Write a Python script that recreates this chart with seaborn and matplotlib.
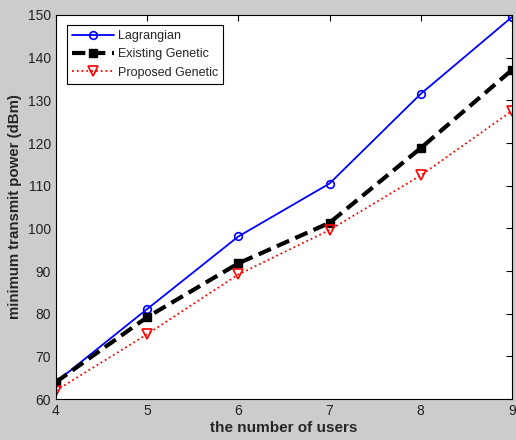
import matplotlib
matplotlib.use("Agg")
import matplotlib.pyplot as plt
import seaborn as sns
import pandas as pd

users = [4, 5, 6, 7, 8, 9]
lagrangian = [64.0, 81.1, 98.1, 110.5, 131.5, 149.5]
existing_genetic = [64.0, 79.2, 91.8, 101.3, 118.8, 137.1]
proposed_genetic = [62.0, 75.2, 89.2, 99.6, 112.4, 127.5]
series_names = ["Lagrangian", "Existing Genetic", "Proposed Genetic"]

sns.set_style("white")
plt.rcParams['font.family'] = ['Liberation Sans', 'DejaVu Sans']

fig = plt.figure(figsize=(5.16, 4.4), dpi=100, facecolor="#cccccc")
ax = fig.add_axes([0.1085, 0.093, 0.8835, 0.873])
ax.set_facecolor("white")

df = pd.DataFrame({"x": users * 3,
                   "y": lagrangian + existing_genetic + proposed_genetic,
                   "s": sum([[n] * len(users) for n in series_names], [])})

styles = {
    "Lagrangian": dict(color="#0000ff", ls="-", lw=1.3, marker="o", ms=5.5, mfc="none", mew=1.2),
    "Existing Genetic": dict(color="black", ls=(0, (3.2, 1.6)), lw=3.0, marker="s", ms=6, mfc="black", mew=1),
    "Proposed Genetic": dict(color="#ff0000", ls=":", lw=1.3, marker="v", ms=6.5, mfc="none", mew=1.2),
}
for n in series_names:
    st = styles[n]
    sns.lineplot(data=df[df.s == n], x="x", y="y", ax=ax, label=n,
                 color=st["color"], linestyle=st["ls"], linewidth=st["lw"],
                 marker=st["marker"], markersize=st["ms"], markerfacecolor=st["mfc"],
                 markeredgecolor=st["color"], markeredgewidth=st["mew"])

ax.set_xlim(4, 9)
ax.set_ylim(60, 150)
ax.set_xticks(users)
ax.set_yticks(range(60, 151, 10))
ax.tick_params(direction="in", top=True, right=True, length=4, width=0.8,
               labelsize=10, colors="black", labelcolor="#222222")
for sp in ax.spines.values():
    sp.set_color("black")
    sp.set_linewidth(0.8)
ax.set_xlabel("the number of users", fontsize=11, fontweight="bold", labelpad=2)
ax.set_ylabel("minimum transmit power (dBm)", fontsize=10.8, fontweight="bold", labelpad=4)

leg = ax.legend(loc="upper left", bbox_to_anchor=(0.01, 0.99), fontsize=9,
                frameon=True, fancybox=False, edgecolor="black", framealpha=1,
                handlelength=3.4, borderpad=0.4, labelspacing=0.5, handletextpad=0.3)
leg.get_frame().set_linewidth(0.8)

fig.savefig("out.png", dpi=100, facecolor=fig.get_facecolor())
